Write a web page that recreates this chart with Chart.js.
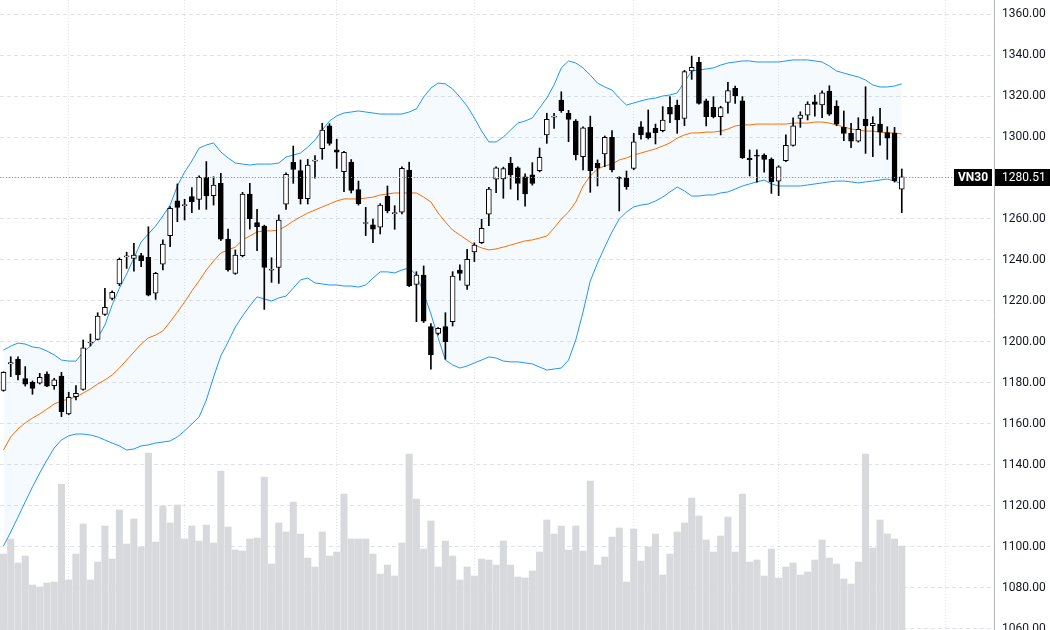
<!DOCTYPE html>
<html>
    <head>
        <meta charset="utf-8">
        <script src="https://cdn.jsdelivr.net/npm/chart.js@4.4.1/dist/chart.umd.min.js" charset="utf-8"></script>
        <title>VN30</title>
        <style>
            body { margin:0; background:#ffffff; }
        </style>
    </head>
    <body>
        <div id="chart_container" style="width:1050px; height:630px">
            <canvas id="vn30_chart" width="1050" height="630"></canvas>
        </div>

        <script type="text/javascript">
            var symbol = "VN30";

            // daily candles, oldest first
            var opens = [
                1176.4,1189.3,1191.6,1182.1,1180.3,1179.9,1184.4,1178.7,1183.4,1164.9,
                1173.3,1176.9,1199.5,1201.3,1213.5,1221.3,1228.3,1241.5,1240.8,1242.1,
                1241.3,1223.8,1238.0,1251.9,1268.9,1266.5,1270.9,1269.6,1280.3,1271.4,
                1277.4,1250.2,1233.5,1242.1,1272.2,1258.2,1256.6,1235.0,1236.4,1267.2,
                1287.7,1283.6,1269.9,1288.2,1294.3,1305.4,1293.8,1283.1,1287.8,1274.3,
                1257.8,1257.1,1256.0,1271.2,1262.6,1263.3,1283.9,1228.1,1232.7,1207.5,
                1204.2,1207.5,1209.9,1235.1,1227.6,1244.0,1248.4,1262.4,1279.4,1279.6,
                1287.2,1285.0,1280.6,1281.6,1283.6,1301.0,1309.7,1318.0,1311.6,1307.8,
                1290.4,1304.7,1287.2,1291.7,1299.9,1280.1,1280.1,1284.7,1305.0,1302.1,
                1304.2,1303.1,1314.5,1315.6,1309.1,1332.2,1336.4,1317.7,1314.5,1309.9,
                1316.9,1323.8,1317.7,1289.6,1291.1,1291.2,1289.1,1278.5,1288.4,1295.9,
                1309.1,1310.7,1317.2,1315.6,1322.4,1315.1,1304.7,1301.8,1298.0,1308.6,
                1305.5,1306.3,1302.1,1301.8,1274.5
            ];
            var highs = [
                1185.5,1192.8,1192.8,1188.0,1181.0,1184.7,1185.5,1182.3,1185.2,1175.5,
                1178.7,1201.0,1203.9,1214.3,1226.2,1225.0,1241.0,1243.8,1248.1,1243.3,
                1256.2,1234.0,1249.8,1266.0,1277.1,1269.6,1275.3,1281.0,1288.0,1280.6,
                1282.3,1255.1,1244.9,1273.0,1277.4,1264.7,1257.0,1241.1,1262.0,1282.5,
                1295.6,1288.8,1289.1,1290.9,1306.7,1306.5,1298.9,1293.0,1289.0,1278.5,
                1265.7,1260.0,1267.5,1276.1,1266.5,1285.5,1287.7,1234.3,1237.1,1209.0,
                1207.0,1214.3,1234.3,1237.6,1245.2,1248.4,1259.9,1275.5,1285.5,1285.3,
                1290.1,1285.5,1282.0,1287.5,1294.6,1311.6,1311.6,1322.1,1313.0,1308.5,
                1305.0,1310.2,1288.8,1300.5,1303.1,1280.6,1283.4,1301.8,1307.5,1313.2,
                1306.3,1314.8,1319.7,1318.0,1332.5,1339.5,1338.9,1318.5,1319.7,1315.0,
                1326.7,1324.9,1319.7,1293.7,1293.7,1291.8,1289.8,1286.0,1301.0,1309.4,
                1312.3,1317.2,1320.5,1322.5,1325.0,1317.7,1312.7,1306.7,1309.4,1324.5,
                1309.9,1314.0,1305.0,1304.7,1284.4
            ];
            var lows = [
                1176.0,1183.1,1181.5,1178.5,1174.5,1179.5,1178.2,1176.9,1163.6,1164.5,
                1171.7,1176.5,1198.0,1201.0,1213.0,1220.5,1227.5,1235.9,1234.6,1236.7,
                1222.5,1220.8,1235.1,1246.5,1258.7,1259.5,1263.1,1264.7,1264.7,1266.8,
                1249.5,1234.5,1233.0,1241.5,1255.1,1244.5,1215.9,1229.1,1228.6,1264.7,
                1277.4,1267.3,1267.3,1279.9,1289.1,1296.0,1284.7,1273.3,1272.7,1266.8,
                1251.9,1248.4,1252.7,1263.0,1255.0,1262.5,1227.0,1209.9,1209.5,1186.7,
                1203.5,1191.6,1207.8,1230.2,1225.7,1239.2,1248.0,1256.7,1272.8,1270.1,
                1274.6,1269.3,1266.3,1276.5,1283.0,1296.9,1304.2,1312.0,1297.7,1288.8,
                1283.9,1273.0,1276.1,1285.5,1283.0,1263.9,1274.5,1284.0,1298.9,1299.0,
                1296.6,1302.5,1307.0,1301.8,1305.5,1328.1,1316.0,1305.4,1309.3,1301.0,
                1311.6,1316.4,1289.5,1281.0,1278.0,1282.8,1272.5,1271.4,1288.0,1295.5,
                1304.7,1308.3,1310.2,1309.4,1310.5,1305.5,1298.2,1294.8,1297.5,1292.0,
                1290.4,1296.0,1289.1,1278.0,1263.1
            ];
            var closes = [
                1185.2,1189.9,1183.9,1179.4,1177.4,1182.8,1178.5,1181.5,1166.0,1173.0,
                1175.0,1197.1,1200.0,1212.7,1216.9,1224.2,1240.3,1242.0,1242.4,1239.7,
                1222.9,1233.5,1247.8,1265.2,1265.7,1267.0,1268.4,1280.3,1271.2,1276.6,
                1250.1,1235.1,1242.4,1272.2,1260.1,1256.2,1236.4,1235.3,1259.5,1281.8,
                1284.2,1269.9,1286.3,1288.6,1303.4,1296.9,1292.6,1292.5,1274.0,1267.5,
                1258.1,1255.0,1266.8,1263.9,1263.0,1284.7,1227.5,1232.7,1210.2,1193.7,
                1206.7,1200.1,1232.2,1233.5,1240.3,1247.3,1255.4,1274.6,1285.0,1284.6,
                1281.5,1277.4,1272.2,1277.4,1290.1,1308.6,1310.2,1312.8,1308.6,1291.2,
                1304.5,1283.6,1284.9,1299.9,1283.9,1279.8,1275.8,1297.7,1301.0,1299.7,
                1302.1,1308.3,1311.1,1308.3,1331.9,1334.0,1316.4,1309.9,1309.9,1314.3,
                1322.6,1320.1,1289.9,1288.9,1290.7,1289.1,1278.2,1285.5,1295.9,1305.5,
                1310.7,1316.1,1315.9,1321.6,1311.1,1306.3,1301.8,1298.0,1303.8,1305.5,
                1306.7,1302.3,1299.4,1278.7,1280.51
            ];
            var volumes = [
                76,91,67,74,45,43,47,48,146,50,
                76,106,50,68,104,71,120,86,111,83,
                177,88,124,107,125,91,104,89,105,87,
                159,103,80,79,91,92,153,66,107,98,
                128,96,72,63,98,74,78,136,91,91,
                91,76,56,65,54,87,176,131,81,109,
                63,89,74,50,63,54,71,70,65,89,
                65,53,52,59,78,110,96,104,80,104,
                79,149,65,73,93,102,48,101,69,83,
                96,55,76,98,107,132,114,90,78,94,
                113,78,136,68,70,54,81,52,63,67,
                55,58,70,90,72,66,51,46,68,176,
                82,110,96,91,84
            ];

            // Bollinger bands (20, 2)
            var bbUpper = [
                1196.1,1198.0,1199.5,1199.0,1197.6,1197.1,1195.6,1193.7,1191.2,1190.7,
                1190.7,1195.1,1198.0,1202.0,1208.3,1218.1,1226.3,1233.2,1241.0,1248.8,
                1252.7,1256.6,1261.5,1266.8,1276.1,1282.9,1288.3,1294.6,1296.1,1297.1,
                1292.7,1289.8,1287.3,1286.8,1286.3,1286.8,1286.8,1286.8,1287.3,1290.2,
                1291.2,1292.2,1295.1,1298.5,1303.4,1307.8,1310.3,1311.7,1312.2,1312.7,
                1312.2,1311.7,1311.2,1311.2,1311.2,1311.2,1312.2,1313.7,1319.5,1323.9,
                1326.3,1325.9,1323.4,1319.5,1315.1,1309.3,1302.9,1297.6,1297.6,1300.0,
                1303.4,1306.8,1307.8,1309.3,1314.2,1319.0,1325.4,1333.7,1337.1,1336.1,
                1333.7,1330.2,1326.3,1324.4,1322.9,1319.0,1315.6,1316.6,1317.6,1318.5,
                1319.0,1320.0,1320.5,1321.5,1326.8,1332.2,1332.7,1333.2,1333.7,1335.1,
                1336.1,1336.6,1337.1,1337.1,1336.6,1336.6,1336.6,1336.6,1337.1,1337.6,
                1337.6,1337.6,1337.1,1336.6,1334.6,1332.2,1331.2,1330.2,1329.3,1327.8,
                1325.4,1324.4,1324.4,1324.9,1325.9
            ];
            var bbBasis = [
                1147.3,1153.7,1157.6,1160.5,1162.9,1164.9,1167.3,1169.8,1171.2,1172.2,
                1173.2,1175.1,1177.1,1179.5,1181.5,1183.9,1187.3,1191.2,1195.1,1199.0,
                1202.0,1203.4,1205.4,1209.8,1214.6,1219.5,1224.9,1229.8,1235.1,1239.5,
                1243.4,1244.9,1246.3,1249.8,1251.7,1253.7,1254.2,1254.2,1254.6,1256.6,
                1259.0,1261.0,1262.9,1264.4,1265.9,1267.3,1268.8,1269.8,1269.8,1269.8,
                1270.2,1270.7,1271.7,1272.2,1272.7,1272.7,1272.7,1272.7,1270.7,1268.3,
                1262.9,1258.5,1254.6,1252.2,1249.8,1247.3,1245.9,1244.9,1245.4,1246.3,
                1247.3,1248.3,1249.3,1249.8,1250.7,1251.7,1255.6,1260.0,1263.4,1268.3,
                1276.1,1281.0,1284.4,1285.9,1286.8,1288.8,1289.8,1291.2,1292.2,1293.2,
                1294.2,1295.6,1297.1,1299.5,1301.0,1302.0,1302.0,1302.4,1302.4,1302.9,
                1303.9,1305.4,1305.9,1305.9,1306.3,1306.3,1306.3,1306.3,1306.3,1306.8,
                1306.8,1306.8,1307.3,1307.3,1306.8,1305.9,1304.9,1303.9,1303.4,1302.9,
                1302.9,1302.4,1302.0,1302.0,1301.5
            ];
            var bbLower = [
                1100.5,1107.3,1114.6,1122.0,1129.3,1136.1,1142.4,1148.3,1152.2,1154.2,
                1155.1,1155.1,1154.6,1153.7,1152.2,1150.7,1149.3,1147.3,1147.8,1149.3,
                1149.8,1150.7,1151.2,1151.7,1153.7,1156.6,1160.0,1163.4,1171.7,1182.9,
                1193.2,1200.0,1207.3,1212.7,1217.6,1222.0,1221.0,1220.0,1221.5,1222.4,
                1226.3,1230.3,1231.2,1228.8,1228.3,1227.8,1227.8,1227.3,1227.3,1226.8,
                1227.8,1231.2,1234.2,1234.2,1233.7,1235.1,1236.1,1232.7,1223.9,1213.7,
                1202.0,1191.2,1188.8,1187.3,1188.3,1189.8,1191.2,1192.7,1192.2,1190.7,
                1190.3,1190.3,1189.8,1189.3,1187.8,1186.3,1186.8,1187.3,1191.2,1201.0,
                1214.6,1229.8,1238.5,1246.3,1253.7,1260.0,1263.4,1265.9,1266.8,1267.3,
                1268.8,1270.7,1273.2,1275.6,1273.7,1271.2,1271.2,1271.7,1271.7,1272.7,
                1273.2,1274.6,1276.1,1277.1,1278.1,1279.0,1277.1,1276.1,1276.1,1276.1,
                1276.1,1276.6,1277.1,1277.6,1278.1,1278.5,1278.5,1278.1,1277.6,1278.1,
                1278.5,1279.0,1279.5,1278.5,1277.1
            ];

            // session index of the first day of each month (last one is in the future)
            var monthStarts = [9, 25, 46, 65, 87, 107, 130];
            var priceTicks = [1060, 1080, 1100, 1120, 1140, 1160, 1180, 1200, 1220, 1240, 1260, 1280, 1300, 1320, 1340, 1360];

            var sessions = closes.map(function(c, i){ return i; });

            function points(values){
                return sessions.map(function(i){ return {x: i, y: values[i]}; });
            }
            function ranges(a, b){
                return sessions.map(function(i){ return {x: i, y: [a[i], b[i]]}; });
            }

            // dotted last-price line plus the two black price tags
            var lastPriceTag = {
                id: "lastPriceTag",
                afterDraw: function(chart){
                    var ctx = chart.ctx;
                    var area = chart.chartArea;
                    var last = closes[closes.length - 1];
                    var y = Math.round(chart.scales.y.getPixelForValue(last)) + 0.5;
                    ctx.save();
                    ctx.strokeStyle = "#9598a1";
                    ctx.lineWidth = 1;
                    ctx.setLineDash([1, 2]);
                    ctx.beginPath();
                    ctx.moveTo(area.left, y);
                    ctx.lineTo(area.right - 40, y);
                    ctx.stroke();
                    ctx.setLineDash([]);

                    ctx.fillStyle = "#000000";
                    ctx.fillRect(area.right - 40, y - 8.5, 38, 17);
                    ctx.fillRect(area.right + 1, y - 8.5, chart.width - area.right - 1, 17);

                    ctx.fillStyle = "#ffffff";
                    ctx.textBaseline = "middle";
                    ctx.textAlign = "center";
                    ctx.font = "bold 12px Roboto";
                    ctx.fillText(symbol, area.right - 21, y + 0.5);
                    ctx.textAlign = "left";
                    ctx.font = "12px Roboto";
                    ctx.fillText(last.toFixed(2), area.right + 8, y + 0.5);
                    ctx.restore();
                }
            };

            var ctx = document.getElementById("vn30_chart");
            var vn30_chart = new Chart(ctx, {
                type: "bar",
                data: {
                    datasets: [
                        {
                            label: "Volume",
                            data: points(volumes),
                            yAxisID: "yVol",
                            backgroundColor: "#d8d9dd",
                            barThickness: 6.4,
                            grouped: false,
                            order: 10
                        },
                        {
                            type: "line",
                            label: "Upper",
                            data: points(bbUpper),
                            borderColor: "#2196f3",
                            borderWidth: 1,
                            pointRadius: 0,
                            fill: "+2",
                            backgroundColor: "rgba(33,150,243,0.05)",
                            order: 5
                        },
                        {
                            type: "line",
                            label: "Basis",
                            data: points(bbBasis),
                            borderColor: "#ff6d00",
                            borderWidth: 1,
                            pointRadius: 0,
                            fill: false,
                            order: 4
                        },
                        {
                            type: "line",
                            label: "Lower",
                            data: points(bbLower),
                            borderColor: "#2196f3",
                            borderWidth: 1,
                            pointRadius: 0,
                            fill: false,
                            order: 5
                        },
                        {
                            label: "Wick",
                            data: ranges(lows, highs),
                            backgroundColor: "#000000",
                            barThickness: 1,
                            grouped: false,
                            order: 2
                        },
                        {
                            label: "Body",
                            data: ranges(opens, closes),
                            backgroundColor: function(c){
                                return closes[c.dataIndex] >= opens[c.dataIndex] ? "#ffffff" : "#000000";
                            },
                            borderColor: "#000000",
                            borderWidth: 1,
                            borderSkipped: false,
                            barThickness: 5,
                            minBarLength: 1,
                            grouped: false,
                            order: 1
                        }
                    ]
                },
                options: {
                    responsive: false,
                    devicePixelRatio: 1,
                    animation: false,
                    layout: { padding: 0 },
                    plugins: {
                        legend: { display: false },
                        tooltip: { enabled: false }
                    },
                    scales: {
                        x: {
                            type: "linear",
                            offset: false,
                            bounds: "ticks",
                            min: -0.483,
                            max: 136.73,
                            ticks: { display: false },
                            grid: { color: "#e0e3eb", drawTicks: false, offset: false },
                            border: { display: false, dash: [1, 2] },
                            afterBuildTicks: function(scale){
                                scale.ticks = monthStarts.map(function(v){ return {value: v}; });
                            }
                        },
                        y: {
                            position: "right",
                            min: 1059.51,
                            max: 1366.83,
                            ticks: {
                                autoSkip: false,
                                padding: 8,
                                color: "#131722",
                                font: { family: "Roboto", size: 12 },
                                callback: function(v){ return v.toFixed(2); }
                            },
                            grid: { color: "#e0e3eb", drawTicks: false },
                            border: { display: true, color: "#b2b5be", width: 1, dash: [4, 3] },
                            afterBuildTicks: function(scale){
                                scale.ticks = priceTicks.map(function(v){ return {value: v}; });
                            },
                            afterFit: function(scale){
                                scale.width = 56;
                                scale.paddingTop = 0;
                                scale.paddingBottom = 0;
                            }
                        },
                        yVol: {
                            display: false,
                            min: 0,
                            max: 630
                        }
                    }
                },
                plugins: [lastPriceTag]
            });
        </script>
    </body>
</html>
